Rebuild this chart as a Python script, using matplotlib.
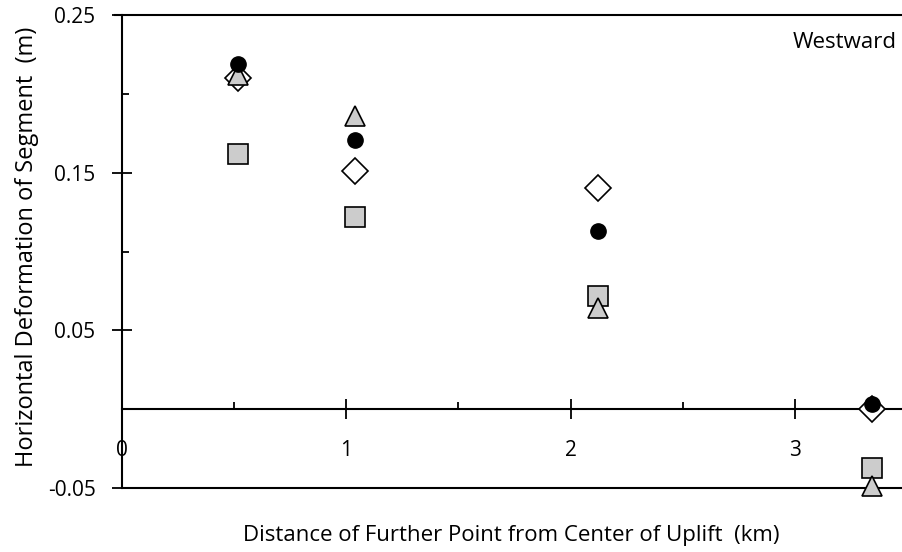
import matplotlib.pyplot as plt
from matplotlib.ticker import MultipleLocator

plt.rcParams['font.family'] = ['Open Sans', 'DejaVu Sans']

# distance of further point from uplift centre (km)
jarak = [0.517, 1.040, 2.122, 3.345]

# horizontal deformation of each segment (m), one list per series
bulat = [0.219, 0.171, 0.113, 0.003]
segitiga = [0.212, 0.186, 0.064, -0.049]
belah_ketupat = [0.210, 0.151, 0.140, 0.000]
kotak = [0.162, 0.122, 0.072, -0.037]

fig = plt.figure(figsize=(9.03, 5.52), dpi=100)
ax = fig.add_axes([122 / 903, 1 - 488 / 552, 785 / 903, 473 / 552])

gaya = dict(ls='none', clip_on=False, mec='black')
ax.plot(jarak, kotak, 's', ms=14, mfc='#cccccc', mew=1.2, zorder=3, **gaya)
ax.plot(jarak, belah_ketupat, 'D', ms=13.5, mfc='white', mew=1.2, zorder=4, **gaya)
ax.plot(jarak, segitiga, '^', ms=14, mfc='#cccccc', mew=1.2, zorder=5, **gaya)
ax.plot(jarak, bulat, 'o', ms=11, mfc='black', zorder=6, **gaya)

ax.set_xlim(0, 3.5)
ax.set_ylim(-0.05, 0.25)

# x axis runs through zero, frame lines at top and bottom
ax.spines['right'].set_visible(False)
ax.spines['bottom'].set_position(('data', 0))
ax.axhline(-0.05, color='black', lw=1.5, clip_on=False, zorder=2)
for s in ['left', 'top', 'bottom']:
    ax.spines[s].set_linewidth(1.5)
ax.spines['top'].set_bounds(-0.03, 3.5)

ax.xaxis.set_major_locator(MultipleLocator(1))
ax.xaxis.set_minor_locator(MultipleLocator(0.5))
ax.set_yticks([-0.05, 0.05, 0.15, 0.25])
ax.set_yticks([0.0, 0.1, 0.2], minor=True)
ax.set_yticklabels(['-0.05', '0.05', '0.15', '0.25'])

ax.tick_params(axis='both', which='major', direction='inout', length=14, width=1.3,
               labelsize=15)
ax.tick_params(axis='both', which='minor', direction='in', length=5, width=1.3)
ax.tick_params(axis='x', which='major', pad=15)
ax.tick_params(axis='y', which='major', pad=12)

ax.set_xlabel('Distance of Further Point from Center of Uplift  (km)', fontsize=16)
ax.xaxis.set_label_coords(0.496, -0.078)
ax.set_ylabel('Horizontal Deformation of Segment  (m)', fontsize=17)
ax.yaxis.set_label_coords(-0.106, 0.51)

fig.text(897 / 903, 1 - 42 / 552, 'Westward', ha='right', va='center', fontsize=16)

fig.savefig('out.png', dpi=100)
